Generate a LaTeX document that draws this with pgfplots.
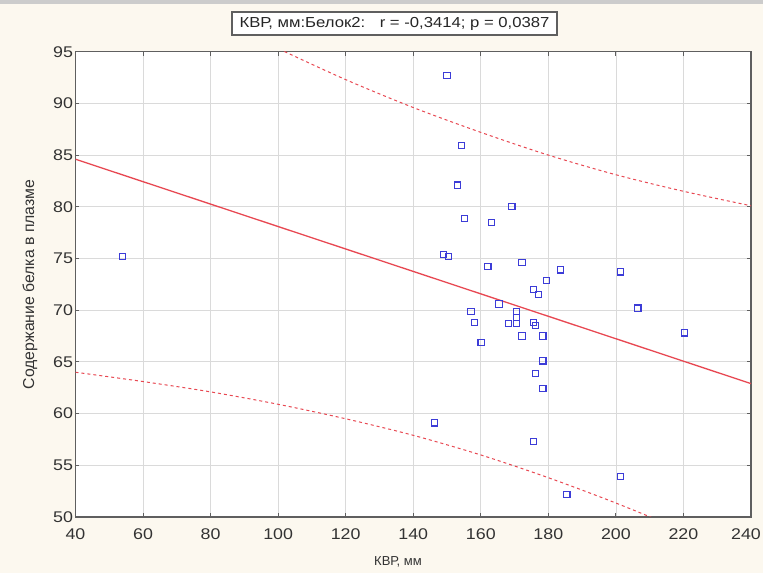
\documentclass[border=0pt]{standalone}
\usepackage{fontspec}
\setmainfont{Liberation Sans}
\newfontfamily\widefont{Liberation Sans}[FakeStretch=1.15]
\usepackage{pgfplots}
\pgfplotsset{compat=1.18}
\definecolor{bg}{RGB}{252,248,239}
\definecolor{ptblue}{RGB}{60,60,215}
\definecolor{fitred}{RGB}{232,72,82}
\definecolor{gridgray}{RGB}{218,218,218}
\definecolor{framegray}{RGB}{95,95,95}
\begin{document}
\begin{tikzpicture}[x=1pt,y=1pt]
\useasboundingbox (0,0) rectangle (763,573);
\fill[bg] (0,0) rectangle (763,573);
\fill[gray!40] (0,569) rectangle (763,573);
\begin{axis}[
  at={(75.5pt,56pt)}, anchor=south west,
  scale only axis, width=675.5pt, height=465.3pt,
  xmin=40, xmax=240, ymin=50, ymax=95,
  xtick={40,60,...,240}, ytick={50,55,...,95},
  xticklabels={40,60,80,100,120,140,160,180,200,220,{\hspace*{-10pt}240}},
  grid=major, major grid style={gridgray, line width=0.8pt},
  axis line style={framegray, line width=1.5pt},
  tick style={framegray, line width=1pt}, major tick length=4pt,
  tick align=inside,
  axis background/.style={fill=white},
  /pgf/number format/assume math mode=true,
  ticklabel style={font=\widefont\fontsize{15.5}{18}\selectfont, text=black!80},
  xticklabel style={yshift=-8pt},
  yticklabel style={xshift=1pt},
  xlabel={КВР, мм},
  ylabel={Содержание белка в плазме},
  every axis x label/.style={at={(axis description cs:0.4774,-0.0967)}, anchor=center, font=\fontsize{13}{16}\selectfont, text=black!80},
  every axis y label/.style={at={(axis description cs:-0.0674,0.5)}, rotate=90, anchor=center, font=\fontsize{15.8}{18}\selectfont, text=black!80},
]
% regression line
\addplot[fitred, line width=1.3pt] coordinates {(40,84.6) (240,62.9)};
% upper band
\addplot[fitred, line width=1pt, dash pattern=on 3pt off 3pt, smooth] coordinates {
(40,105.2) (60,101.7) (80,98.4) (100,95.3) (120,92.3) (140,89.6) (160,87.2) (180,85.0) (200,83.1) (220,81.5) (240,80.1)};
% lower band
\addplot[fitred, line width=1pt, dash pattern=on 3pt off 3pt, smooth] coordinates {
(40,64.0) (60,63.1) (80,62.1) (100,60.9) (120,59.5) (140,57.9) (160,56.0) (180,53.8) (200,51.35) (220,48.65) (240,45.7)};
% data points
\addplot[only marks, mark=square, mark size=3.1pt, mark options={ptblue, line width=1.1pt}] coordinates {
(54,75.2) (150,92.7) (154.2,85.9) (153.2,82.1) (169.2,80.0) (155.2,78.9) (163.1,78.5)
(149.0,75.4) (150.5,75.2) (162.1,74.2) (172.2,74.6) (179.4,72.9) (183.6,73.9)
(175.5,72.0) (177.1,71.5) (165.4,70.6) (157.1,69.9) (170.5,69.9) (170.5,69.3)
(170.5,68.7) (168.2,68.7) (158.2,68.8) (175.5,68.8) (176.1,68.5) (172.2,67.5)
(178.4,67.5) (160.1,66.9) (178.4,65.1) (176.1,63.9) (178.4,62.4) (146.3,59.1)
(175.5,57.3) (185.5,52.2) (201.3,73.7) (206.5,70.2) (220.4,67.8) (201.3,53.9)};
\end{axis}
\node[draw=framegray, line width=1.2pt, fill=white, minimum width=325pt, minimum height=23pt, inner sep=0pt, font=\widefont\fontsize{14.5}{17}\selectfont, text=black!85] at (394.5,549.5) {КВР, мм:Белок2:\quad r = -0,3414; p = 0,0387};
\end{tikzpicture}
\end{document}
